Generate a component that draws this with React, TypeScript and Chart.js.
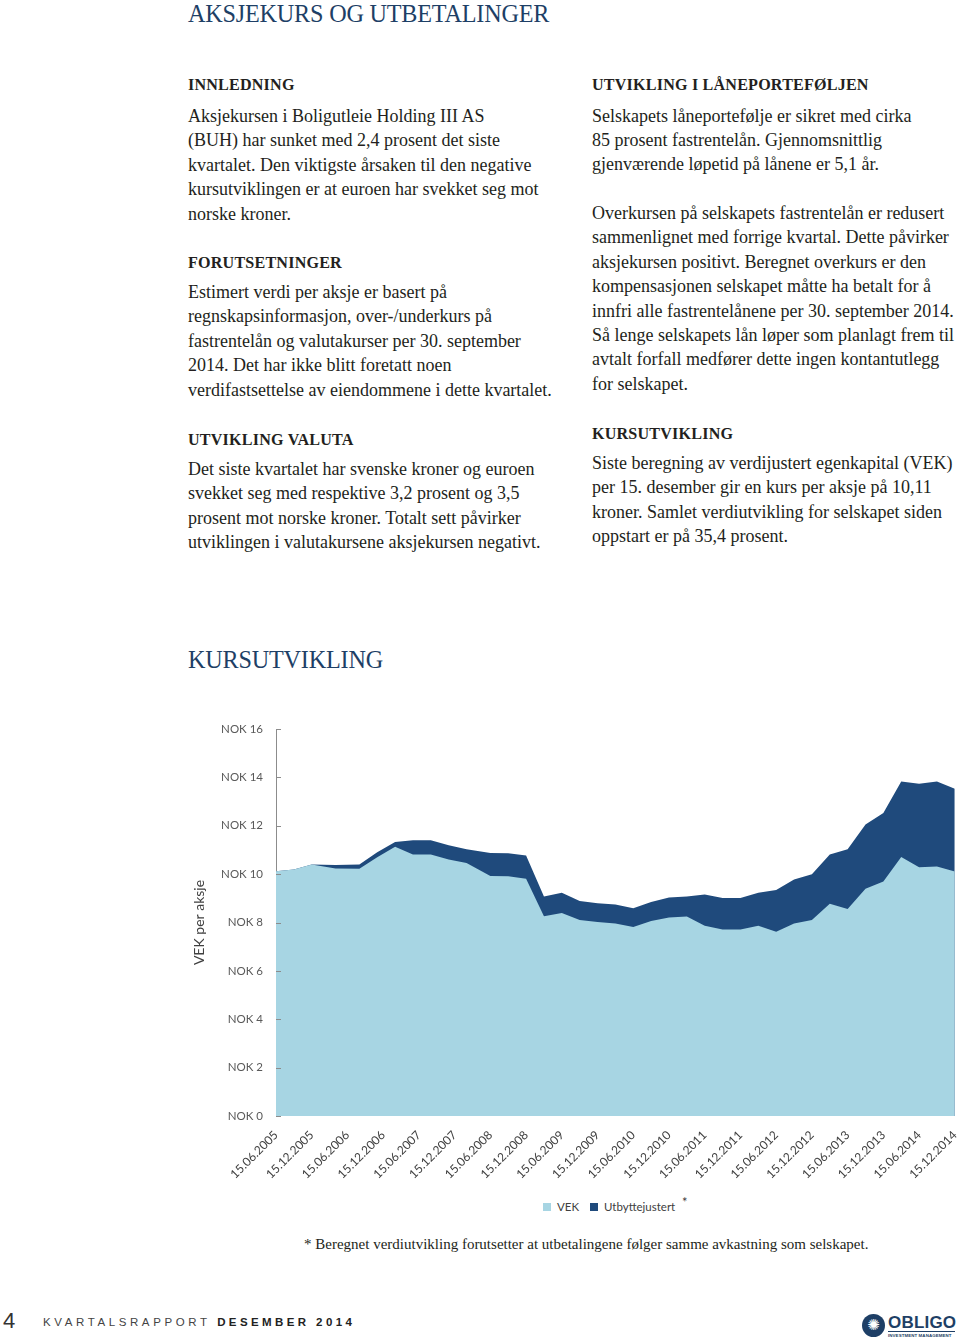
import React, { useEffect, useRef } from 'react';
import { Chart, registerables } from 'chart.js';

Chart.register(...registerables);

// Months since 15.06.2005 for each observation
const months = [0, 3, 6, 10, 14, 17, 20, 23, 26, 29, 32, 36, 39, 42, 45, 48, 51, 54, 57, 60, 63, 66, 69, 72, 75, 78, 81, 84, 87, 90, 93, 96, 99, 102, 105, 108, 111, 114];

// VEK per aksje (NOK)
const vek = [10.12, 10.19, 10.4, 10.23, 10.22, 10.7, 11.13, 10.81, 10.81, 10.6, 10.46, 9.92, 9.91, 9.81, 8.26, 8.39, 8.1, 8.02, 7.96, 7.81, 8.06, 8.21, 8.25, 7.87, 7.71, 7.71, 7.87, 7.62, 7.96, 8.1, 8.78, 8.56, 9.4, 9.7, 10.71, 10.28, 10.32, 10.11];

// Utbyttejustert (NOK)
const utbytte = [10.12, 10.19, 10.4, 10.38, 10.4, 10.9, 11.33, 11.4, 11.4, 11.19, 11.03, 10.87, 10.86, 10.77, 9.07, 9.23, 8.89, 8.8, 8.74, 8.59, 8.85, 9.03, 9.07, 9.16, 9.01, 9.01, 9.23, 9.34, 9.78, 9.99, 10.81, 11.03, 12.05, 12.53, 13.83, 13.74, 13.83, 13.53];

// x tick labels, every 6 months
const tickLabels = ['15.06.2005', '15.12.2005', '15.06.2006', '15.12.2006', '15.06.2007', '15.12.2007', '15.06.2008', '15.12.2008', '15.06.2009', '15.12.2009', '15.06.2010', '15.12.2010', '15.06.2011', '15.12.2011', '15.06.2012', '15.12.2012', '15.06.2013', '15.12.2013', '15.06.2014', '15.12.2014'];

const seriesLabels = ['VEK', 'Utbyttejustert'];

const LIGHT = '#A7D5E3';
const DARK = '#1F4A7C';
const NAVY = '#1E3F66';
const TEXT = '#231F20';
const SERIF = '"Liberation Serif", "DejaVu Serif", serif';
const SANS = 'Lato, "Noto Sans", sans-serif';

const leftCol = [
  { h: 'INNLEDNING', hTop: 75, pTop: 104, lines: ['Aksjekursen i Boligutleie Holding III AS', '(BUH) har sunket med 2,4 prosent det siste', 'kvartalet. Den viktigste årsaken til den negative', 'kursutviklingen er at euroen har svekket seg mot', 'norske kroner.'] },
  { h: 'FORUTSETNINGER', hTop: 253, pTop: 280, lines: ['Estimert verdi per aksje er basert på', 'regnskapsinformasjon, over-/underkurs på', 'fastrentelån og valutakurser per 30. september', '2014. Det har ikke blitt foretatt noen', 'verdifastsettelse av eiendommene i dette kvartalet.'] },
  { h: 'UTVIKLING VALUTA', hTop: 429.5, pTop: 457, lines: ['Det siste kvartalet har svenske kroner og euroen', 'svekket seg med respektive 3,2 prosent og 3,5', 'prosent mot norske kroner. Totalt sett påvirker', 'utviklingen i valutakursene aksjekursen negativt.'] },
];

const rightCol = [
  { h: 'UTVIKLING I LÅNEPORTEFØLJEN', hTop: 75, pTop: 103.5, lines: ['Selskapets låneportefølje er sikret med cirka', '85 prosent fastrentelån. Gjennomsnittlig', 'gjenværende løpetid på lånene er 5,1 år.'] },
  { h: '', hTop: 0, pTop: 201, lines: ['Overkursen på selskapets fastrentelån er redusert', 'sammenlignet med forrige kvartal. Dette påvirker', 'aksjekursen positivt. Beregnet overkurs er den', 'kompensasjonen selskapet måtte ha betalt for å', 'innfri alle fastrentelånene per 30. september 2014.', 'Så lenge selskapets lån løper som planlagt frem til', 'avtalt forfall medfører dette ingen kontantutlegg', 'for selskapet.'] },
  { h: 'KURSUTVIKLING', hTop: 424, pTop: 451, lines: ['Siste beregning av verdijustert egenkapital (VEK)', 'per 15. desember gir en kurs per aksje på 10,11', 'kroner. Samlet verdiutvikling for selskapet siden', 'oppstart er på 35,4 prosent.'] },
];

function Column({ x, blocks }: { x: number; blocks: typeof leftCol }) {
  return (
    <>
      {blocks.map((b, i) => (
        <React.Fragment key={i}>
          {b.h && (
            <div style={{ position: 'absolute', left: x, top: b.hTop, fontFamily: SERIF, fontWeight: 700, fontSize: 16.1, lineHeight: '20px', color: TEXT, whiteSpace: 'nowrap', letterSpacing: 0.2 }}>{b.h}</div>
          )}
          <div style={{ position: 'absolute', left: x, top: b.pTop, fontFamily: SERIF, fontSize: 18, lineHeight: '24.4px', color: TEXT, whiteSpace: 'nowrap' }}>
            {b.lines.map((l, j) => (
              <div key={j}>{l}</div>
            ))}
          </div>
        </React.Fragment>
      ))}
    </>
  );
}

const tickMarks = {
  id: 'tickMarks',
  afterDatasetsDraw(chart: any) {
    const { ctx, chartArea, scales } = chart;
    const y = scales.y;
    ctx.save();
    ctx.strokeStyle = '#8C8C8C';
    ctx.lineWidth = 1;
    y.ticks.forEach((t: any) => {
      const py = Math.round(y.getPixelForValue(t.value)) + 0.5;
      ctx.beginPath();
      ctx.moveTo(chartArea.left, py);
      ctx.lineTo(chartArea.left + 5, py);
      ctx.stroke();
    });
    ctx.restore();
  },
};

function KursChart() {
  const ref = useRef<HTMLCanvasElement>(null);
  useEffect(() => {
    if (!ref.current) return;
    const chart = new Chart(ref.current, {
      type: 'line',
      data: {
        datasets: [
          {
            label: seriesLabels[0],
            data: months.map((m, i) => ({ x: m, y: vek[i] })),
            backgroundColor: LIGHT,
            borderColor: LIGHT,
            borderWidth: 0,
            pointRadius: 0,
            fill: 'origin',
            tension: 0,
          },
          {
            label: seriesLabels[1],
            data: months.map((m, i) => ({ x: m, y: utbytte[i] })),
            backgroundColor: DARK,
            borderColor: DARK,
            borderWidth: 0,
            pointRadius: 0,
            fill: 'origin',
            tension: 0,
          },
        ],
      },
      options: {
        animation: false,
        responsive: false,
        maintainAspectRatio: false,
        layout: { padding: { top: 29, right: 5, left: 0, bottom: 0 } },
        plugins: { legend: { display: false }, tooltip: { enabled: false } },
        scales: {
          x: {
            type: 'linear',
            min: 0,
            max: 114,
            grid: { display: false, drawTicks: false },
            border: { display: false },
            ticks: {
              stepSize: 6,
              autoSkip: false,
              maxRotation: 45,
              minRotation: 45,
              padding: 12,
              color: '#404040',
              font: { family: SANS, size: 12 },
              callback: (v: any) => tickLabels[Math.round(Number(v) / 6)] ?? '',
            },
            afterFit: (s: any) => {
              s.height = 74;
            },
          },
          y: {
            min: 0,
            max: 16,
            z: 1,
            grid: { display: false, drawTicks: false },
            border: { display: true, color: '#8C8C8C', width: 1 },
            ticks: {
              stepSize: 2,
              padding: 13,
              color: '#595959',
              font: { family: SANS, size: 11.5 },
              callback: (v: any) => 'NOK ' + v,
            },
            title: {
              display: true,
              text: 'VEK per aksje',
              color: '#404040',
              font: { family: SANS, size: 14 },
              padding: { top: 11, bottom: 0 },
            },
            afterFit: (s: any) => {
              s.width = 96;
            },
          },
        },
      },
      plugins: [tickMarks],
    });
    return () => chart.destroy();
  }, []);
  return <canvas ref={ref} width={797} height={490} style={{ position: 'absolute', left: 180, top: 700, width: 797, height: 490 }} />;
}

export default function App() {
  return (
    <div style={{ position: 'absolute', left: 0, top: 0, width: 960, height: 1344, background: '#fff', overflow: 'hidden' }}>
      <div style={{ position: 'absolute', left: 188, top: -1.5, fontFamily: SERIF, fontSize: 24.2, lineHeight: '30px', color: NAVY, whiteSpace: 'nowrap', letterSpacing: -0.2 }}>AKSJEKURS OG UTBETALINGER</div>

      <Column x={188} blocks={leftCol} />
      <Column x={592} blocks={rightCol} />

      <div style={{ position: 'absolute', left: 188, top: 645, fontFamily: SERIF, fontSize: 24.2, lineHeight: '30px', color: NAVY, whiteSpace: 'nowrap', letterSpacing: -0.2 }}>KURSUTVIKLING</div>

      <KursChart />

      {/* legend */}
      <div style={{ position: 'absolute', left: 543, top: 1203, width: 8, height: 8, background: LIGHT }} />
      <div style={{ position: 'absolute', left: 557, top: 1199, fontFamily: SANS, fontSize: 11.5, lineHeight: '15px', color: '#404040', whiteSpace: 'nowrap' }}>{seriesLabels[0]}</div>
      <div style={{ position: 'absolute', left: 590, top: 1203, width: 8, height: 8, background: DARK }} />
      <div style={{ position: 'absolute', left: 604, top: 1199, fontFamily: SANS, fontSize: 11.5, lineHeight: '15px', color: '#404040', whiteSpace: 'nowrap' }}>{seriesLabels[1]}</div>
      <div style={{ position: 'absolute', left: 682, top: 1195, fontFamily: SANS, fontSize: 13, lineHeight: '15px', color: '#404040' }}>*</div>

      <div style={{ position: 'absolute', left: 304, top: 1234, fontFamily: SERIF, fontSize: 15, lineHeight: '20px', color: TEXT, whiteSpace: 'nowrap' }}>* Beregnet verdiutvikling forutsetter at utbetalingene følger samme avkastning som selskapet.</div>

      {/* footer */}
      <div style={{ position: 'absolute', left: 3, top: 1306, fontFamily: '"Liberation Sans", sans-serif', fontSize: 22, lineHeight: '30px', color: '#333' }}>4</div>
      <div style={{ position: 'absolute', left: 43, top: 1314, fontFamily: '"Liberation Sans", sans-serif', fontSize: 11.5, lineHeight: '16px', color: '#444', whiteSpace: 'nowrap', letterSpacing: 3.6 }}>
        KVARTALSRAPPORT <span style={{ fontWeight: 700, color: '#222', letterSpacing: 3.4 }}>DESEMBER 2014</span>
      </div>
      <div style={{ position: 'absolute', left: 862, top: 1314, width: 23, height: 23, borderRadius: '50%', background: NAVY, color: '#fff', fontSize: 15, lineHeight: '23px', textAlign: 'center', fontFamily: '"DejaVu Sans", sans-serif' }}>✺</div>
      <div style={{ position: 'absolute', left: 888, top: 1313, fontFamily: '"Liberation Sans", sans-serif', fontWeight: 700, fontSize: 17, lineHeight: '20px', color: NAVY, letterSpacing: 0.2, whiteSpace: 'nowrap' }}>OBLIGO</div>
      <div style={{ position: 'absolute', left: 888, top: 1331, width: 67, height: 1, background: NAVY }} />
      <div style={{ position: 'absolute', left: 888, top: 1333, fontFamily: '"Liberation Sans", sans-serif', fontWeight: 700, fontSize: 4.4, lineHeight: '6px', color: NAVY, whiteSpace: 'nowrap', letterSpacing: 0.1 }}>INVESTMENT MANAGEMENT</div>
    </div>
  );
}
